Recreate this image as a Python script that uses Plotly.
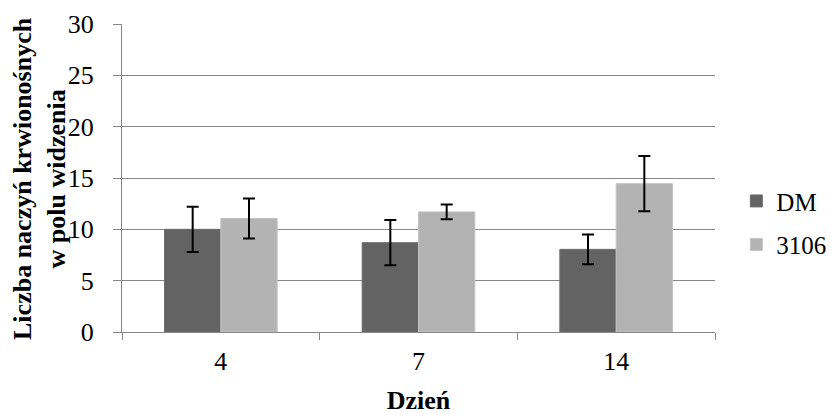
import plotly.graph_objects as go

# Day of measurement (categories)
days = ["4", "7", "14"]

# Mean number of blood vessels per field of view
dm_values = [10.0, 8.7, 8.05]
dm_errors = [2.2, 2.2, 1.45]

s3106_values = [11.05, 11.7, 14.45]
s3106_errors = [1.95, 0.73, 2.7]

FONT = "Liberation Serif"
GRID = "#878787"
FS = 26

fig = go.Figure()

fig.add_trace(go.Bar(
    name="DM", x=days, y=dm_values,
    marker=dict(color="#636363", line=dict(color="#6e6e6e", width=1)),
    error_y=dict(type="data", array=dm_errors, visible=True,
                 color="black", thickness=2, width=6),
    legendgroup="a",
))
fig.add_trace(go.Bar(
    name="3106", x=days, y=s3106_values,
    marker=dict(color="#b3b3b3", line=dict(color="#c4c4c4", width=1)),
    error_y=dict(type="data", array=s3106_errors, visible=True,
                 color="black", thickness=2, width=6),
    legendgroup="b",
))

fig.update_layout(
    width=833, height=415,
    margin=dict(l=122, r=118, t=24, b=83, autoexpand=False),
    paper_bgcolor="white", plot_bgcolor="white",
    barmode="group", bargap=0.43, bargroupgap=0,
    font=dict(family=FONT, size=FS, color="black"),
    legend=dict(
        x=1.036, y=0.355, xanchor="left", yanchor="middle",
        font=dict(family=FONT, size=25, color="black"),
        tracegroupgap=8, traceorder="grouped", itemwidth=30,
        bgcolor="rgba(0,0,0,0)",
    ),
    showlegend=True,
)

# Vertical axis title (two bold lines)
fig.add_annotation(
    text="<b>Liczba naczyń krwionośnych<br>w polu widzenia</b>",
    xref="paper", yref="paper", x=-0.14, y=0.5,
    xanchor="center", yanchor="middle", textangle=-90, showarrow=False,
    font=dict(family=FONT, size=FS, color="black"),
)

fig.update_yaxes(
    range=[0, 30], dtick=5, automargin=False,
    showgrid=True, gridcolor=GRID, gridwidth=1.2,
    showline=True, linecolor=GRID, linewidth=1.2,
    ticks="outside", ticklen=8, tickcolor=GRID, tickwidth=1.2,
    ticklabelstandoff=14,
    tickfont=dict(family=FONT, size=FS, color="black"),
    zeroline=False,
)

fig.update_xaxes(
    automargin=False,
    showline=True, linecolor=GRID, linewidth=1.2,
    ticks="outside", ticklen=7, tickcolor=GRID, tickwidth=1.2,
    tickson="boundaries",
    ticklabelstandoff=6,
    tickfont=dict(family=FONT, size=FS, color="black"),
    title=dict(text="<b>Dzień</b>",
               font=dict(family=FONT, size=FS, color="black"), standoff=15),
)

fig.write_html("out.html")
